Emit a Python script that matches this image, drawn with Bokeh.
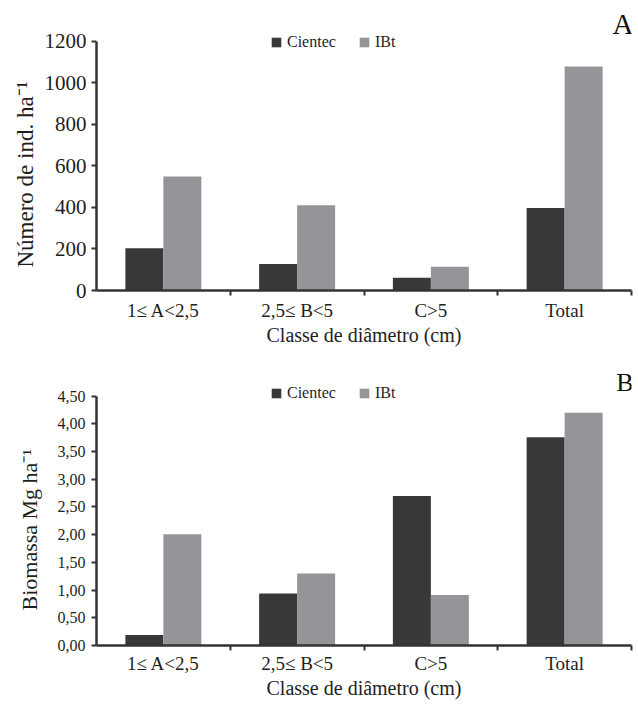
import numpy as np
from bokeh.plotting import figure
from bokeh.models import Range1d, FixedTicker, CustomJSTickFormatter, ColumnDataSource, Label, Title
from bokeh.layouts import column
from bokeh.transform import dodge
from bokeh.embed import file_html
from bokeh.resources import INLINE

# ---- data ----
categories = ["1\u2264 A<2,5", "2,5\u2264 B<5", "C>5", "Total"]
series = ["Cientec", "IBt"]
num_cientec = [204, 128, 61, 398]
num_ibt = [549, 411, 114, 1080]
bio_cientec = [0.19, 0.94, 2.70, 3.76]
bio_ibt = [2.01, 1.30, 0.91, 4.20]
num_ticks = [0, 200, 400, 600, 800, 1000, 1200]
bio_ticks = [0.0, 0.5, 1.0, 1.5, 2.0, 2.5, 3.0, 3.5, 4.0, 4.5]
x_title = "Classe de di\u00e2metro (cm)"
y_title_a = "N\u00famero de ind. ha\u207b\u00b9"
y_title_b = "Biomassa Mg ha\u207b\u00b9"

SERIF = "Liberation Serif"
C_DARK = "#383838"
C_GRAY = "#939598"
AX = "#333333"
TXT = "#1e1e1e"


def make_panel(vals_c, vals_i, yticks, ymax, yend, ytitle, ytitle_size, ytitle_offset,
               ytitle_standoff, letter, height, top, bottom,
               ytick_size, ytick_standoff, yfmt, xlab_standoff,
               xtitle_standoff, legend_y, letter_offset, letter_size):
    n = len(categories)
    src = ColumnDataSource(dict(x=np.arange(n) + 0.5, c=vals_c, i=vals_i))
    p = figure(width=633, height=height, x_range=Range1d(0, n), y_range=Range1d(0, yend),
               output_backend="svg", toolbar_location=None,
               min_border_left=96, min_border_right=2, min_border_top=top,
               min_border_bottom=bottom)
    p.outline_line_color = None
    p.grid.visible = False
    p.background_fill_color = "white"

    p.vbar(x=dodge("x", -0.142, range=p.x_range), top="c", width=0.284, source=src,
           fill_color=C_DARK, line_color=None, legend_label=series[0])
    p.vbar(x=dodge("x", 0.142, range=p.x_range), top="i", width=0.284, source=src,
           fill_color=C_GRAY, line_color=None, legend_label=series[1])

    # x axis
    xa = p.xaxis[0]
    xa.ticker = FixedTicker(ticks=list(np.arange(n) + 0.5), minor_ticks=list(np.arange(1, n + 1)))
    xa.formatter = CustomJSTickFormatter(args=dict(labels=categories),
                                         code="return labels[Math.floor(tick)] || '';")
    xa.major_tick_line_color = None
    xa.major_tick_out = 0
    xa.major_tick_in = 0
    xa.minor_tick_out = 5
    xa.minor_tick_in = 0
    xa.minor_tick_line_width = 2
    xa.minor_tick_line_color = AX
    xa.major_label_standoff = xlab_standoff
    xa.major_label_text_font = SERIF
    xa.major_label_text_font_size = "19px"
    xa.major_label_text_color = TXT
    xa.axis_label = x_title
    xa.axis_label_text_font = SERIF
    xa.axis_label_text_font_size = "20px"
    xa.axis_label_text_font_style = "normal"
    xa.axis_label_text_color = TXT
    xa.axis_label_standoff = xtitle_standoff
    xa.axis_line_width = 2.5
    xa.axis_line_color = AX

    # y axis
    ya = p.yaxis[0]
    ya.ticker = FixedTicker(ticks=yticks, minor_ticks=[])
    ya.formatter = CustomJSTickFormatter(code=yfmt)
    ya.bounds = (0, ymax)
    ya.major_tick_out = 5
    ya.major_tick_in = 0
    ya.major_tick_line_width = 2
    ya.major_tick_line_color = AX
    ya.minor_tick_line_color = None
    ya.major_label_standoff = ytick_standoff
    ya.major_label_text_font = SERIF
    ya.major_label_text_font_size = ytick_size
    ya.major_label_text_color = TXT
    ya.axis_line_width = 2.5
    ya.axis_line_color = AX

    # y title as a side title (allows shifting along the axis)
    p.add_layout(Title(text=ytitle, align="left", offset=ytitle_offset,
                       standoff=ytitle_standoff, text_font=SERIF,
                       text_font_size=ytitle_size, text_font_style="normal",
                       text_color=TXT), "left")

    lg = p.legend[0]
    lg.orientation = "horizontal"
    lg.location = (174, legend_y)
    lg.background_fill_alpha = 0
    lg.border_line_color = None
    lg.padding = 0
    lg.margin = 0
    lg.spacing = 22
    lg.glyph_width = 12
    lg.glyph_height = 12
    lg.label_standoff = 5
    lg.label_height = 12
    lg.label_text_font = SERIF
    lg.label_text_font_size = "16px"
    lg.label_text_color = TXT

    p.add_layout(Label(x=n, y=ymax, text=letter, text_align="right", text_baseline="alphabetic",
                       x_offset=2, y_offset=letter_offset, text_font=SERIF,
                       text_font_size=letter_size, text_color="#111111"))
    return p


pA = make_panel(num_cientec, num_ibt, num_ticks, 1200, 1359.0, y_title_a, "23px", 23, 8,
                "A", 353, 8, 63,
                "21px", 5, "return tick.toFixed(0);", 4, 0, 239, 17, "29px")
pB = make_panel(bio_cientec, bio_ibt, bio_ticks, 4.5, 5.108, y_title_b, "22px", 35, 25,
                "B", 352, 9, 60,
                "16px", 6, "return tick.toFixed(2).replace('.', ',');", 2, 0, 243, 14, "26px")

layout = column(pA, pB)
open("out.html", "w").write(file_html(layout, INLINE))
